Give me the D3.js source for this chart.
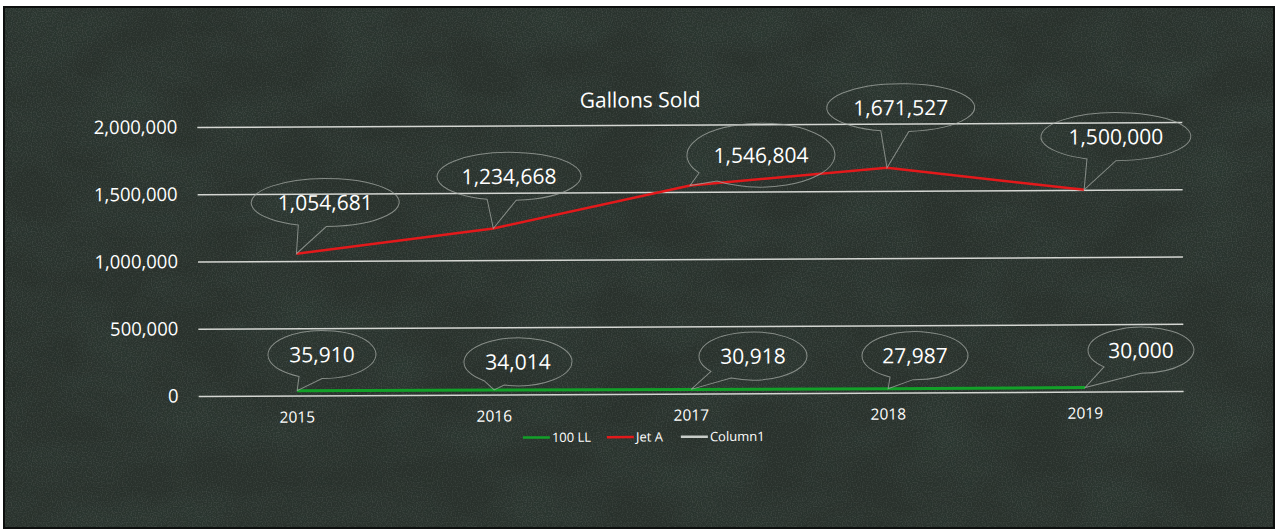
<!DOCTYPE html>
<html>
<head>
<meta charset="utf-8">
<script src="https://cdn.jsdelivr.net/npm/d3@7/dist/d3.min.js"></script>
<style>
  html, body { margin: 0; padding: 0; background: #ffffff; }
  svg { display: block; }
  text { font-family: "Open Sans", "DejaVu Sans", sans-serif; fill: #ffffff; }
</style>
</head>
<body>
<svg id="chart" width="1280" height="531"></svg>
<script>
// ---- data ----
const years = ["2015", "2016", "2017", "2018", "2019"];
const ll100 = [35910, 34014, 30918, 27987, 30000];
const jetA = [1054681, 1234668, 1546804, 1671527, 1500000];
const yTicks = [0, 500000, 1000000, 1500000, 2000000];
const seriesNames = ["100 LL", "Jet A", "Column1"];
const chartTitle = "Gallons Sold";

// ---- callout layout (pixel offsets from the point): [dx, dy, rx, ry, base1, base2] ----
const jetACallouts = [
  [29, -51, 74, 24, -27, 1],
  [16, -52, 72, 24, -22, 7],
  [71, -30, 74, 32, -62, -44],
  [14, -60, 74, 24, -20, 8],
  [32, -53, 75, 24, -29, 0]
];
const llCallouts = [
  [25, -36, 54, 24, -23, 0],
  [24, -28, 54, 24, -34, -14],
  [62, -33, 54, 24, -42, -22],
  [27, -33, 53, 24, -25, -2],
  [56, -37, 53, 23, -37, 0]
];

const colors = { ll: "#12a028", jet: "#e3191b", col1: "#c8ccc8", grid: "#d4d6d2", callout: "#a4aaa4" };

const svg = d3.select("#chart");
const defs = svg.append("defs");
const f = defs.append("filter").attr("id", "grain").attr("x", 0).attr("y", 0).attr("width", "100%").attr("height", "100%");
f.append("feTurbulence").attr("type", "fractalNoise").attr("baseFrequency", "0.012 0.02").attr("numOctaves", 3).attr("seed", 4).attr("result", "n1");
f.append("feColorMatrix").attr("in", "n1").attr("type", "matrix")
  .attr("values", "0 0 0 0 0.03  0 0 0 0 0.06  0 0 0 0 0.045  0 0 0 -1.1 0.75").attr("result", "blot");
f.append("feTurbulence").attr("type", "fractalNoise").attr("baseFrequency", "0.8").attr("numOctaves", 1).attr("seed", 9).attr("result", "n2");
f.append("feColorMatrix").attr("in", "n2").attr("type", "matrix")
  .attr("values", "0 0 0 0 0.30  0 0 0 0 0.36  0 0 0 0 0.33  0 0 0 -0.9 0.5").attr("result", "speck");
f.append("feMerge").call(m => { m.append("feMergeNode").attr("in", "blot"); m.append("feMergeNode").attr("in", "speck"); });

// page & panel
svg.append("rect").attr("width", 1280).attr("height", 531).attr("fill", "#ffffff");
svg.append("rect").attr("x", 4).attr("y", 7).attr("width", 1270).attr("height", 521)
  .attr("fill", "#29312c").attr("stroke", "#0d0f0e").attr("stroke-width", 2);
svg.append("rect").attr("x", 5).attr("y", 8).attr("width", 1268).attr("height", 519)
  .attr("filter", "url(#grain)").attr("opacity", 0.5);

const g = svg.append("g").attr("transform", "rotate(-0.29 640 265)");

const x = d3.scaleBand().domain(years).range([198, 1183]).padding(0);
const y = d3.scaleLinear().domain([0, 2000000]).range([393.8, 124.8]);
const cx = d => x(d) + x.bandwidth() / 2;

// title
g.append("text").attr("x", 641).attr("y", 100).attr("dy", "0.35em")
  .attr("text-anchor", "middle").attr("font-size", 21).text(chartTitle);

// y axis (gridlines + labels)
const yAxis = d3.axisLeft(y).tickValues(yTicks).tickSize(-(1183 - 198)).tickPadding(20)
  .tickFormat(d3.format(","));
const ya = g.append("g").attr("transform", "translate(198,0)").call(yAxis);
ya.select(".domain").remove();
ya.selectAll(".tick line").attr("stroke", colors.grid).attr("stroke-width", 1.5);
ya.selectAll(".tick text").attr("fill", "#ffffff").attr("font-size", 18.5)
  .attr("font-family", "'Open Sans', sans-serif");

// x axis labels
const xAxis = d3.axisBottom(x).tickSize(0).tickPadding(16);
const xa = g.append("g").attr("transform", `translate(0,${y(0)})`).call(xAxis);
xa.select(".domain").remove();
xa.selectAll(".tick text").attr("fill", "#ffffff").attr("font-size", 15.5)
  .attr("font-family", "'Open Sans', sans-serif");

// lines
const line = d3.line().x((d, i) => cx(years[i])).y(d => y(d));
g.append("path").datum(ll100).attr("d", line).attr("fill", "none")
  .attr("stroke", colors.ll).attr("stroke-width", 3);
g.append("path").datum(jetA).attr("d", line).attr("fill", "none")
  .attr("stroke", colors.jet).attr("stroke-width", 2.5);

// callouts
function callout(values, layout, fontSize) {
  values.forEach((v, i) => {
    const px = cx(years[i]), py = y(v);
    const [dx, dy, rx, ry, b1, b2] = layout[i];
    const ex = px + dx, ey = py + dy;
    const yb = b => ey + ry * Math.sqrt(Math.max(0, 1 - (b / rx) * (b / rx)));
    const d = `M${ex + b2},${yb(b2)} A${rx},${ry} 0 1 0 ${ex + b1},${yb(b1)} L${px},${py} Z`;
    g.append("path").attr("d", d).attr("fill", "none")
      .attr("stroke", colors.callout).attr("stroke-width", 1).attr("stroke-opacity", 0.75);
    g.append("text").attr("x", ex).attr("y", ey).attr("dy", "0.36em")
      .attr("text-anchor", "middle").attr("font-size", fontSize).text(d3.format(",")(v));
  });
}
callout(jetA, jetACallouts, 21);
callout(ll100, llCallouts, 21);

// legend
const legendItems = [
  { name: seriesNames[0], color: colors.ll, x0: 522 },
  { name: seriesNames[1], color: colors.jet, x0: 606 },
  { name: seriesNames[2], color: colors.col1, x0: 680 }
];
const lg = g.append("g");
legendItems.forEach(it => {
  lg.append("line").attr("x1", it.x0).attr("x2", it.x0 + 27).attr("y1", 437).attr("y2", 437)
    .attr("stroke", it.color).attr("stroke-width", 2.5);
  lg.append("text").attr("x", it.x0 + 29).attr("y", 437).attr("dy", "0.35em")
    .attr("font-size", 13).text(it.name);
});
</script>
</body>
</html>
